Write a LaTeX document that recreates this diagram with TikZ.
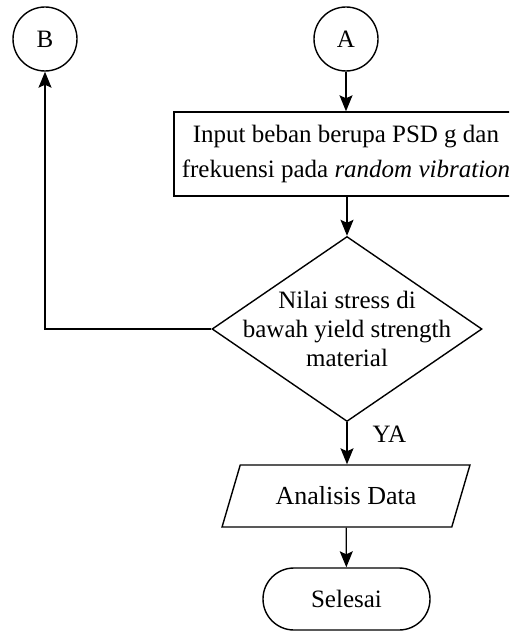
\documentclass[tikz,border=0pt]{standalone}
\usepackage{fontspec}
\setmainfont{Liberation Serif}
\usetikzlibrary{shapes.geometric,shapes.misc,arrows.meta}
\begin{document}
\begin{tikzpicture}[x=1pt,y=-1pt,
  base/.style={draw=black,line width=1.4pt,inner sep=0pt,font=\fontsize{25}{35}\selectfont},
  connector/.style={draw,circle,base,minimum size=64pt},
  process/.style={draw,rectangle,base,minimum width=344pt,minimum height=84pt,align=center},
  decision/.style={draw,diamond,base,minimum width=270pt,minimum height=185pt},
  io/.style={draw,trapezium,base,trapezium left angle=56.5,trapezium right angle=123.5,
    trapezium stretches=true,minimum width=248pt,minimum height=62pt},
  terminal/.style={draw,rounded rectangle,base,minimum width=167pt,minimum height=62pt},
  flow/.style={line width=1.3pt,-{Stealth[length=16pt,width=13pt,inset=3pt]}}]
\clip (0,0) rectangle (509,631);
% connectors
\node[connector] (B) at (45,39) {B};
\node[connector] (A) at (346,39) {A};
% input step
\node[process] (inp) at (346,154) {Input beban berupa PSD g dan\\frekuensi pada \textit{random vibration}};
% decision
\node[decision] (dec) at (347,329) {};
\node[base,draw=none,align=center,font=\fontsize{25}{29}\selectfont] (dectext) at (dec.center)
  {Nilai stress di\\bawah yield strength\\material};
% output and end
\node[io,font=\fontsize{26}{30}\selectfont] (ana) at (346,496) {Analisis Data};
\node[terminal] (end) at (346.5,599) {Selesai};
% flow lines
\draw[flow] (A) -- (inp);
\draw[flow] (inp.south -| dec.north) -- (dec.north);
\draw[flow] (dec.west) -| (B.south);
\draw[flow] (dec.south) -- (ana.north -| dec.south);
\draw[flow] (ana) -- (end);
\node[base,draw=none,anchor=west] (ya) at (372,434) {YA};
\end{tikzpicture}
\end{document}
